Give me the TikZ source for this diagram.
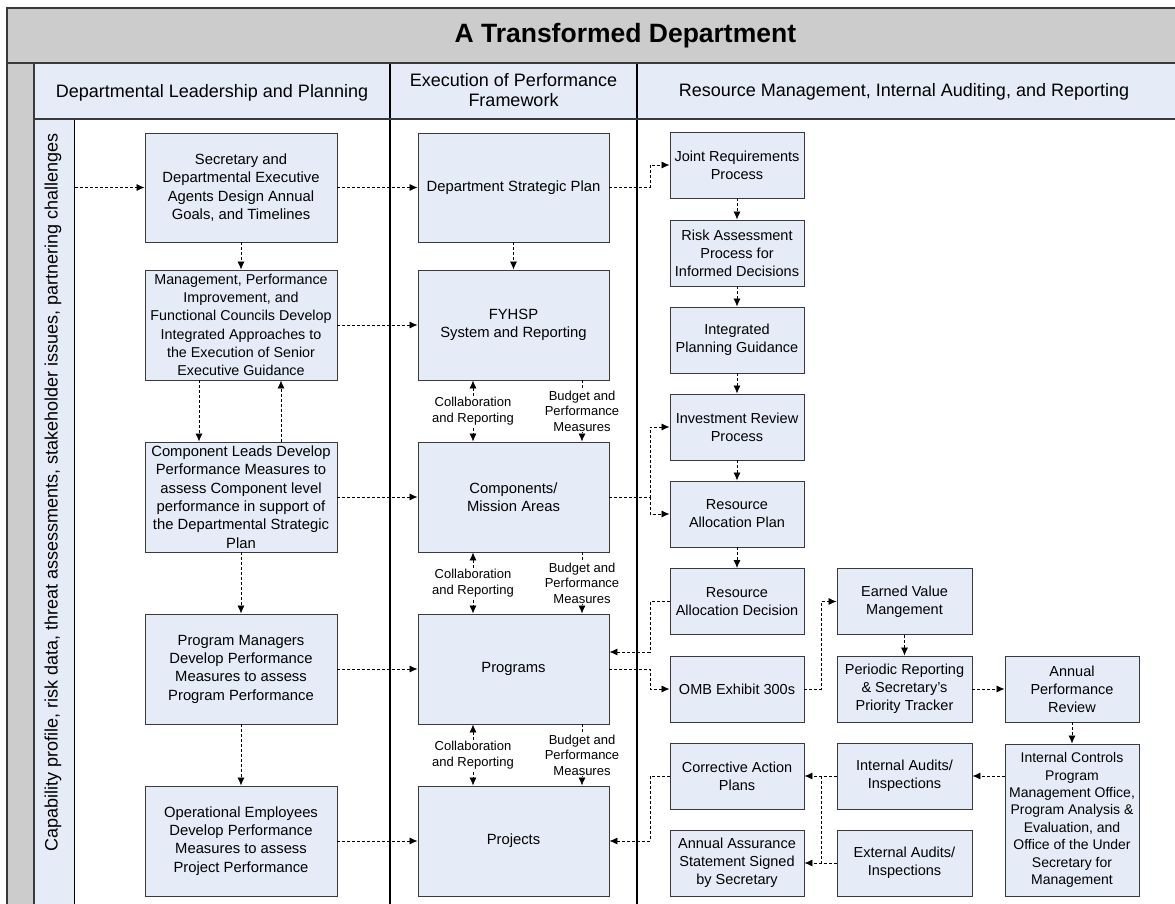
\documentclass[tikz,border=0pt]{standalone}
\usepackage{fontspec}
\setmainfont{Liberation Sans}
\usetikzlibrary{arrows.meta,calc}
\definecolor{lb}{HTML}{E6ECF7}
\definecolor{tg}{HTML}{CCCCCC}
\definecolor{bd}{HTML}{3A3A3A}
\begin{document}
\begin{tikzpicture}[x=1pt,y=-1pt,
  box/.style={draw=bd, fill=lb, line width=0.9pt, inner sep=0pt, align=center,
    font=\fontsize{14.8}{18.3}\selectfont},
  lbox/.style={box, minimum width=192, minimum height=110},
  mbox/.style={box, minimum width=191, minimum height=110},
  rbox/.style={box, minimum width=134, minimum height=66, font=\fontsize{14.5}{18}\selectfont},
  arr/.style={draw=black, line width=0.75pt, dash pattern=on 3pt off 2pt, -{Latex[length=8pt,width=7pt]}},
  darr/.style={arr, {Latex[length=8pt,width=7pt]}-{Latex[length=8pt,width=7pt]}},
  dline/.style={draw=black, line width=0.75pt, dash pattern=on 3pt off 2pt},
  lbl/.style={fill=white, inner sep=1pt, align=center, font=\fontsize{13}{15.5}\selectfont},
  hdr/.style={align=center, font=\fontsize{18}{20.5}\selectfont},
  frame/.style={draw=bd, line width=1.8pt},
  lane/.style={draw=black, line width=1.1pt}
]
\useasboundingbox (0,0) rectangle (1175,904);
% backgrounds
\fill[tg] (7,8) rectangle (1175,63);
\fill[tg] (7,63) rectangle (34,904);
\fill[lb] (34,63) rectangle (1175,119);
\node[fill=lb, draw=black, line width=1.1pt, minimum width=40, minimum height=790, anchor=north west, inner sep=0pt] (capcol) at (34,119) {};
\node[rotate=90, font=\fontsize{18}{20}\selectfont] (caplab) at (53,492.5) {Capability profile, risk data, threat assessments, stakeholder issues, partnering challenges};
% lines
\draw[lane] (390,63) -- (390,904);
\draw[lane] (637,63) -- (637,904);
\draw[draw=bd, line width=1.1pt] (34,119) -- (1175,119);
\draw[frame] (34,63) -- (34,904);
\draw[frame] (7,63) -- (1175,63);
\draw[frame] (7,904) -- (7,8) -- (1175,8);
% title and headers
\node[anchor=base west, font=\bfseries\fontsize{26.5}{30}\selectfont] (title) at (451,43) {A Transformed Department};
\node[anchor=base, hdr] (h1) at (212,98) {Departmental Leadership and Planning};
\node[hdr] (h2) at (513.5,90) {Execution of Performance\\Framework};
\node[anchor=base, hdr] (h3) at (904,97) {Resource Management, Internal Auditing, and Reporting};
% left lane
\node[lbox, minimum height=109] (b1) at (241,187.5) {Secretary and\\Departmental Executive\\Agents Design Annual\\Goals, and Timelines};
\node[lbox, font=\fontsize{14.3}{18.3}\selectfont] (b2) at (241,325) {Management, Performance\\Improvement, and\\Functional Councils Develop\\Integrated Approaches to\\the Execution of Senior\\Executive Guidance};
\node[lbox] (b3) at (241,497) {Component Leads Develop\\Performance Measures to\\assess Component level\\performance in support of\\the Departmental Strategic\\Plan};
\node[lbox] (b4) at (241,669) {Program Managers\\Develop Performance\\Measures to assess\\Program Performance};
\node[lbox] (b5) at (241,841) {Operational Employees\\Develop Performance\\Measures to assess\\Project Performance};
% middle lane
\node[mbox, minimum height=109] (dsp) at (513.5,187.5) {Department Strategic Plan};
\node[mbox] (fy) at (513.5,325) {FYHSP\\System and Reporting};
\node[mbox] (comp) at (513.5,497) {Components/\\Mission Areas};
\node[mbox] (prog) at (513.5,669) {Programs};
\node[mbox] (proj) at (513.5,841) {Projects};
% right lane
\node[rbox] (jrp) at (737,165) {Joint Requirements\\Process};
\node[rbox] (risk) at (737,253) {Risk Assessment\\Process for\\Informed Decisions};
\node[rbox] (ipg) at (737,340) {Integrated\\Planning Guidance};
\node[rbox] (irp) at (737,427) {Investment Review\\Process};
\node[rbox] (rapl) at (737,514) {Resource\\Allocation Plan};
\node[rbox] (rad) at (737,601.5) {Resource\\Allocation Decision};
\node[rbox] (omb) at (737,689) {OMB Exhibit 300s};
\node[rbox] (cap) at (737,776) {Corrective Action\\Plans};
\node[rbox] (aas) at (737,863) {Annual Assurance\\Statement Signed\\by Secretary};
\node[rbox, minimum width=135] (evm) at (904.5,601.5) {Earned Value\\Mangement};
\node[rbox, minimum width=135] (pr) at (904.5,689) {Periodic Reporting\\\& Secretary’s\\Priority Tracker};
\node[rbox, minimum width=135] (ia) at (904.5,776) {Internal Audits/\\Inspections};
\node[rbox, minimum width=135] (ea) at (904.5,863) {External Audits/\\Inspections};
\node[rbox] (apr) at (1072,689) {Annual\\Performance\\Review};
\node[rbox, minimum height=152, font=\fontsize{14}{17.4}\selectfont] (ic) at (1072,820) {Internal Controls\\Program\\Management Office,\\Program Analysis \&\\Evaluation, and\\Office of the Under\\Secretary for\\Management};
% junction columns
\coordinate (j1) at (650,0);
\coordinate (j2) at (821,0);
\coordinate (cx) at (473,0);
\coordinate (bx) at (582,0);
% left lane arrows
\draw[arr] (capcol.east |- b1.west) -- (b1.west);
\draw[arr] (b1.south) -- (b2.north);
\draw[arr] (b2.south -| 199,0) -- (b3.north -| 199,0);
\draw[arr] (b3.north -| 281,0) -- (b2.south -| 281,0);
\draw[arr] (b3.south) -- (b4.north);
\draw[arr] (b4.south) -- (b5.north);
% left to middle
\draw[arr] (b1.east) -- (dsp.west);
\draw[arr] (b2.east) -- (fy.west);
\draw[arr] (b3.east) -- (comp.west);
\draw[arr] (b4.east) -- (prog.west);
\draw[arr] (b5.east) -- (proj.west);
% middle lane
\draw[arr] (dsp.south) -- (fy.north);
\draw[darr] (fy.south -| cx) -- (comp.north -| cx);
\draw[arr] (fy.south -| bx) -- (comp.north -| bx);
\draw[darr] (comp.south -| cx) -- (prog.north -| cx);
\draw[arr] (comp.south -| bx) -- (prog.north -| bx);
\draw[darr] (prog.south -| cx) -- (proj.north -| cx);
\draw[arr] (prog.south -| bx) -- (proj.north -| bx);
\node[lbl] (c1) at (473,411) {Collaboration\\and Reporting};
\node[lbl] (m1) at (582,411) {Budget and\\Performance\\Measures};
\node[lbl] (c2) at (473,583) {Collaboration\\and Reporting};
\node[lbl] (m2) at (582,583) {Budget and\\Performance\\Measures};
\node[lbl] (c3) at (473,755) {Collaboration\\and Reporting};
\node[lbl] (m3) at (582,755) {Budget and\\Performance\\Measures};
% middle to right
\draw[arr] (dsp.east) -- (dsp.east -| j1) |- (jrp.west);
\draw[arr] (comp.east) -- (comp.east -| j1) |- (irp.west);
\draw[arr] (comp.east -| j1) |- (rapl.west);
\draw[arr] (rad.west) -- (rad.west -| j1) |- ($(prog.east)+(0,-17)$);
\draw[arr] (prog.east) -- (prog.east -| j1) |- (omb.west);
\draw[arr] (cap.west) -- (cap.west -| j1) |- (proj.east);
% right lane chain
\draw[arr] (jrp.south) -- (risk.north);
\draw[arr] (risk.south) -- (ipg.north);
\draw[arr] (ipg.south) -- (irp.north);
\draw[arr] (irp.south) -- (rapl.north);
\draw[arr] (rapl.south) -- (rad.north);
\draw[arr] (omb.east) -- (omb.east -| j2) |- (evm.west);
\draw[arr] (evm.south) -- (pr.north);
\draw[arr] (pr.east) -- (apr.west);
\draw[arr] (apr.south) -- (ic.north);
\draw[arr] (ic.west |- ia.east) -- (ia.east);
\draw[arr] (ia.west) -- (cap.east);
\draw[arr] (ea.west) -- (aas.east);
\draw[dline] (ia.west -| j2) -- (ea.west -| j2);
\end{tikzpicture}
\end{document}
